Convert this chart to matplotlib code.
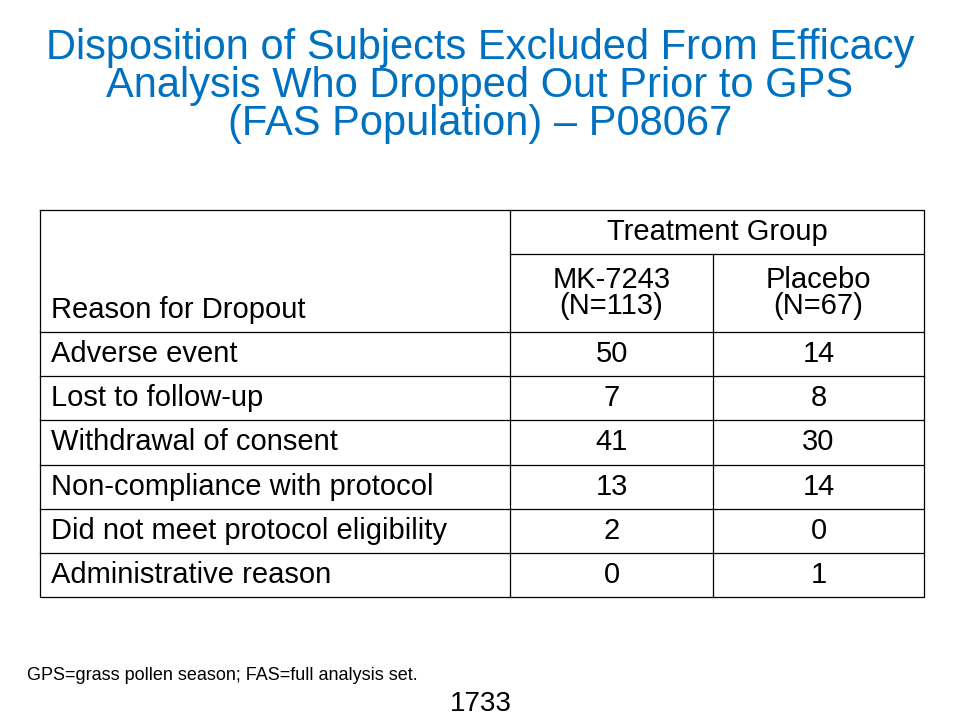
import matplotlib as mpl
mpl.use('Agg')
import matplotlib.pyplot as plt

plt.rcParams['font.family'] = ['Liberation Sans', 'DejaVu Sans']

title = 'Disposition of Subjects Excluded From Efficacy\nAnalysis Who Dropped Out Prior to GPS\n(FAS Population) \u2013 P08067'
reasons = ['Adverse event', 'Lost to follow-up', 'Withdrawal of consent',
           'Non-compliance with protocol', 'Did not meet protocol eligibility',
           'Administrative reason']
mk7243 = [50, 7, 41, 13, 2, 0]
placebo = [14, 8, 30, 14, 0, 1]
groups = ['MK-7243\n(N=113)', 'Placebo\n(N=67)']
footnote = 'GPS=grass pollen season; FAS=full analysis set.'
page = '1733'

fig = plt.figure(figsize=(9.6, 7.2), dpi=100)
ax = fig.add_axes([0, 0, 1, 1])
ax.set_xlim(0, 960)
ax.set_ylim(720, 0)
ax.axis('off')

ax.text(480, 86, title, ha='center', va='center', color='#0070C0',
        fontsize=30, linespacing=0.92)

# table grid
x0, x1, x2, x3 = 40, 510, 713, 924
top, mid, hdr = 210, 254, 332
rh = 44.2
bottom = hdr + rh * len(reasons)
lw = 0.9
ax.plot([x0, x3, x3, x0, x0], [top, top, bottom, bottom, top], color='black', lw=lw)
ax.plot([x1, x1], [top, bottom], color='black', lw=lw)
ax.plot([x2, x2], [mid, bottom], color='black', lw=lw)
ax.plot([x1, x3], [mid, mid], color='black', lw=lw)
for i in range(len(reasons)):
    y = hdr + rh * i
    ax.plot([x0, x3], [y, y], color='black', lw=lw)

fs = 21
ax.text((x1 + x3) / 2, (top + mid) / 2, 'Treatment Group', ha='center', va='center', fontsize=fs)
ax.text(x0 + 11, hdr - 22, 'Reason for Dropout', ha='left', va='center', fontsize=fs)
ax.text((x1 + x2) / 2, (mid + hdr) / 2, groups[0], ha='center', va='center', fontsize=fs, linespacing=0.95)
ax.text((x2 + x3) / 2, (mid + hdr) / 2, groups[1], ha='center', va='center', fontsize=fs, linespacing=0.95)
for i, r in enumerate(reasons):
    yc = hdr + rh * (i + 0.5)
    ax.text(x0 + 11, yc, r, ha='left', va='center', fontsize=fs)
    ax.text((x1 + x2) / 2, yc, str(mk7243[i]), ha='center', va='center', fontsize=fs)
    ax.text((x2 + x3) / 2, yc, str(placebo[i]), ha='center', va='center', fontsize=fs)

ax.text(27, 675, footnote, ha='left', va='center', fontsize=13)
ax.text(481, 704, page, ha='center', va='center', fontsize=20)

plt.savefig('out.png', dpi=100)
